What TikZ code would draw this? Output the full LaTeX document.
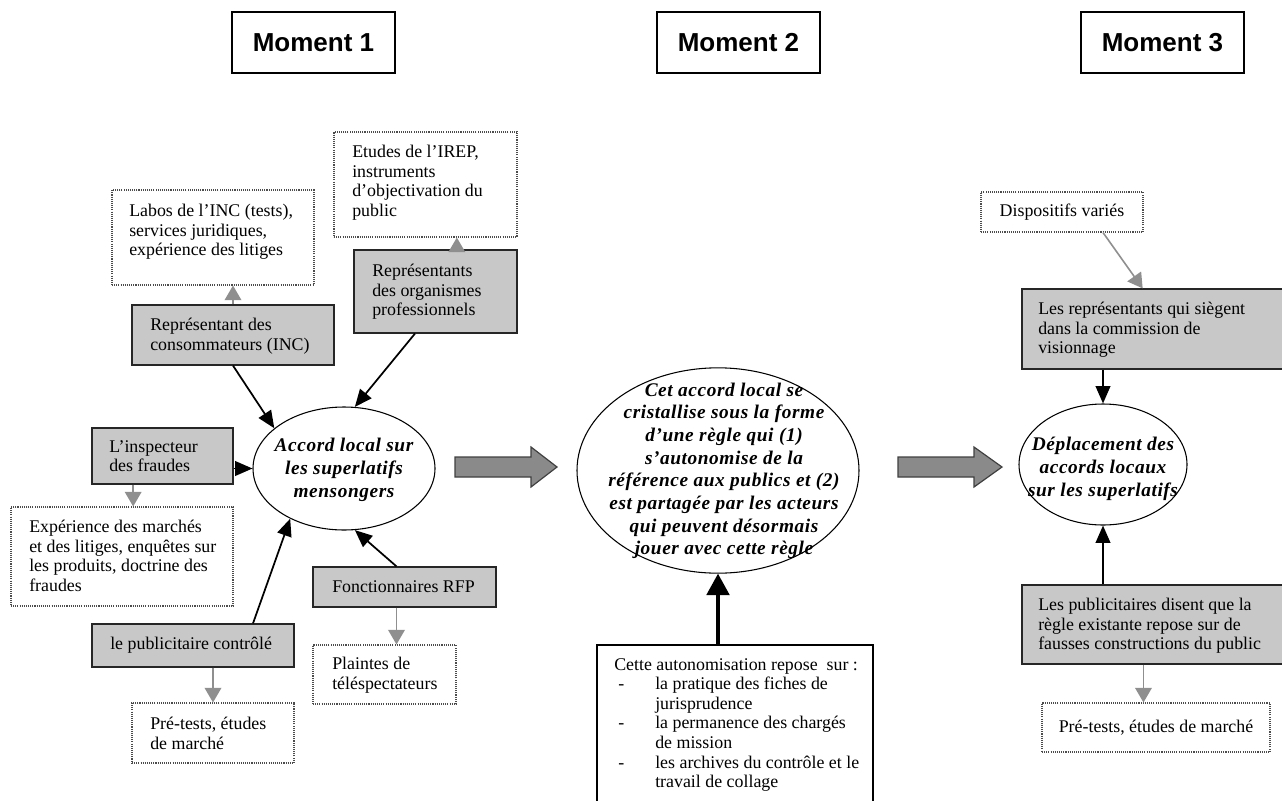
\documentclass[tikz,border=0pt]{standalone}
\usepackage{fontspec}
\setmainfont{Liberation Serif}
\newfontfamily\momentfont{Liberation Sans}
\newfontfamily\ellfont[LetterSpace=3]{Liberation Serif}
\usetikzlibrary{arrows.meta,shapes.geometric,calc}
\definecolor{boxgrey}{HTML}{C8C8C8}
\definecolor{arrgrey}{HTML}{8F8F8F}
\definecolor{blockgrey}{HTML}{8A8A8A}
\tikzset{
 bx/.style n args={4}{at={({(#1+#3)/2},{(#2+#4)/2})}, minimum width={(#3-#1)*0.75pt}, minimum height={(#4-#2)*0.75pt}, rectangle, inner sep=0pt},
 greybox/.style={draw=black!85, line width=0.9pt, fill=boxgrey},
 dotbox/.style={draw=black!70, line width=0.8pt, dash pattern=on 0.8pt off 0.8pt},
 plainbox/.style={draw=black, line width=0.9pt},
 momentbox/.style={draw=black, line width=1.6pt, font=\momentfont\bfseries\fontsize{19.5}{22}\selectfont},
 txt/.style={anchor=north west, inner sep=0pt, align=left, font=\fontsize{13.4}{14.7}\selectfont},
 ctxt/.style={inner sep=0pt, align=center, font=\fontsize{13.4}{14.7}\selectfont},
 ell/.style={ellipse, draw=black, line width=0.8pt, inner sep=0pt},
 elltxt/.style={align=center, inner sep=0pt, font=\ellfont\bfseries\itshape\fontsize{14.5}{17}\selectfont},
 blk/.style={draw=black, line width=1.3pt, -{Triangle[length=13pt,width=11pt]}},
 gry/.style={draw=arrgrey, line width=1.2pt, -{Triangle[length=11pt,width=12.5pt]}},
 thk/.style={draw=black, line width=2.3pt, -{Triangle[length=16pt,width=17pt]}},
 blockarrow/.style={draw=black!75, line width=0.9pt, fill=blockgrey},
}
\begin{document}
\begin{tikzpicture}[x=0.75pt, y=-0.75pt]
\useasboundingbox (0,0) rectangle (1282,800);

% Moments
\node[momentbox, bx={232}{12}{395}{73}] (m1) {Moment 1};
\node[momentbox, bx={657}{12}{820}{73}] (m2) {Moment 2};
\node[momentbox, bx={1081}{12}{1244}{73}] (m3) {Moment 3};

% ---------- Moment 1 ----------
\node[dotbox, bx={112}{190}{314}{285}] (labos) {};
\node[txt] (labost) at (129,204) {Labos de l’INC (tests),\\services juridiques,\\expérience des litiges};

\node[dotbox, bx={334}{132}{517}{237}] (etudes) {};
\node[txt] (etudest) at (352,145) {Etudes de l’IREP,\\instruments\\d’objectivation du\\public};

\node[greybox, bx={354}{250}{517}{333}] (rep) {};
\node[txt] (rept) at (372,264) {Représentants\\des organismes\\professionnels};

\node[greybox, bx={132}{305}{334}{365}] (cons) {};
\node[txt] (const) at (150,318) {Représentant des\\consommateurs (INC)};

\node[greybox, bx={92}{428}{233}{484}] (insp) {};
\node[txt] (inspt) at (109,440) {L’inspecteur\\des fraudes};

\node[dotbox, bx={11}{507}{233}{606}] (exp) {};
\node[txt] (expt) at (29,520) {Expérience des marchés\\et des litiges, enquêtes sur\\les produits, doctrine des\\fraudes};

\node[ell, minimum width=136.5pt, minimum height=92.25pt] (accord) at (344,468.5) {};
\node[elltxt] (accordt) at (344,470) {Accord local sur\\les superlatifs\\mensongers};

\node[greybox, bx={92}{624}{294}{667}] (pub) {};
\node[txt] (pubt) at (110,637) {le publicitaire contrôlé};

\node[dotbox, bx={132}{703}{294}{763}] (prel) {};
\node[txt] (prelt) at (150,717) {Pré-tests, études\\de marché};

\node[greybox, bx={313}{567}{496}{607}] (fonc) {};
\node[txt] (fonct) at (332,580) {Fonctionnaires RFP};

\node[dotbox, bx={313}{645}{456}{704}] (plaintes) {};
\node[txt] (plaintest) at (332,657) {Plaintes de\\téléspectateurs};

% arrows moment 1
\draw[gry] (cons.north) -- (cons.north |- labos.south);
\draw[gry] ([xshift=16pt]rep.north) -- ([xshift=16pt]rep.north |- etudes.south);
\draw[blk] (cons.south) -- (accord.150);
\draw[blk] ([xshift=-15.4pt]rep.south) -- (accord.80);
\draw[blk] (accord.west -| insp.east) -- (accord.west);
\draw[gry] ([xshift=-22pt]insp.south) -- ([xshift=-22pt]insp.south |- exp.north);
\draw[blk] ([xshift=45pt]pub.north) -- (accord.223);
\draw[gry] (prel.north |- pub.south) -- (prel.north);
\draw[blk] ([xshift=-6pt]fonc.north) -- (accord.280);
\draw[gry] ([xshift=-6pt]fonc.south) -- ([xshift=-6pt]fonc.south |- plaintes.north);

% block arrow 1
\draw[blockarrow] (455,457) -- (531,457) -- (531,447) -- (557,467) -- (531,487) -- (531,477) -- (455,477) -- cycle;

% ---------- Moment 2 ----------
\node[ell, minimum width=211.5pt, minimum height=154pt] (mid) at (718,470.5) {};
\node[elltxt] (midt) at (724,471) {Cet accord local se\\cristallise sous la forme\\d’une règle qui (1)\\s’autonomise de la\\référence aux publics et (2)\\est partagée par les acteurs\\qui peuvent désormais\\jouer avec cette règle};

\node[plainbox, bx={597}{645}{873}{803}] (bb) {};
\node[txt] (bbt) at (614,658) {Cette autonomisation repose\ \ sur :\\
\hspace*{3pt}\makebox[27.75pt][l]{-}la pratique des fiches de\\
\hspace*{30.75pt}jurisprudence\\
\hspace*{3pt}\makebox[27.75pt][l]{-}la permanence des chargés\\
\hspace*{30.75pt}de mission\\
\hspace*{3pt}\makebox[27.75pt][l]{-}les archives du contrôle et le\\
\hspace*{30.75pt}travail de collage};

\draw[thk] (mid.south |- bb.north) -- (mid.south);

% block arrow 2
\draw[blockarrow] (898,457) -- (974,457) -- (974,447) -- (1002,467) -- (974,487) -- (974,477) -- (898,477) -- cycle;

% ---------- Moment 3 ----------
\node[ell, minimum width=126pt, minimum height=90.75pt] (e3) at (1103,464.5) {};
\node[elltxt] (e3t) at (1103,469) {Déplacement des\\accords locaux\\sur les superlatifs};

\node[dotbox, bx={981}{192}{1143}{232}] (disp) {};
\node[ctxt] (dispt) at (disp.center) {Dispositifs variés};

\node[greybox, bx={1022}{289}{1290}{369}] (rep3) {};
\node[txt] (rep3t) at (1038,302) {Les représentants qui siègent\\dans la commission de\\visionnage};

\node[greybox, bx={1022}{585}{1290}{664}] (pub3) {};
\node[txt] (pub3t) at (1038,598) {Les publicitaires disent que la\\règle existante repose sur de\\fausses constructions du public};

\node[dotbox, bx={1042}{703}{1270}{752}] (pre3) {};
\node[ctxt] (pre3t) at (pre3.center) {Pré-tests, études de marché};

\draw[gry] ([xshift=30.75pt]disp.south) -- ([xshift=-10pt]rep3.north);
\draw[blk] (e3.north |- rep3.south) -- (e3.north);
\draw[blk] (e3.south |- pub3.north) -- (e3.south);
\draw[gry] ([xshift=-9.4pt]pub3.south) -- ([xshift=-9.4pt]pub3.south |- pre3.north);
\end{tikzpicture}
\end{document}
